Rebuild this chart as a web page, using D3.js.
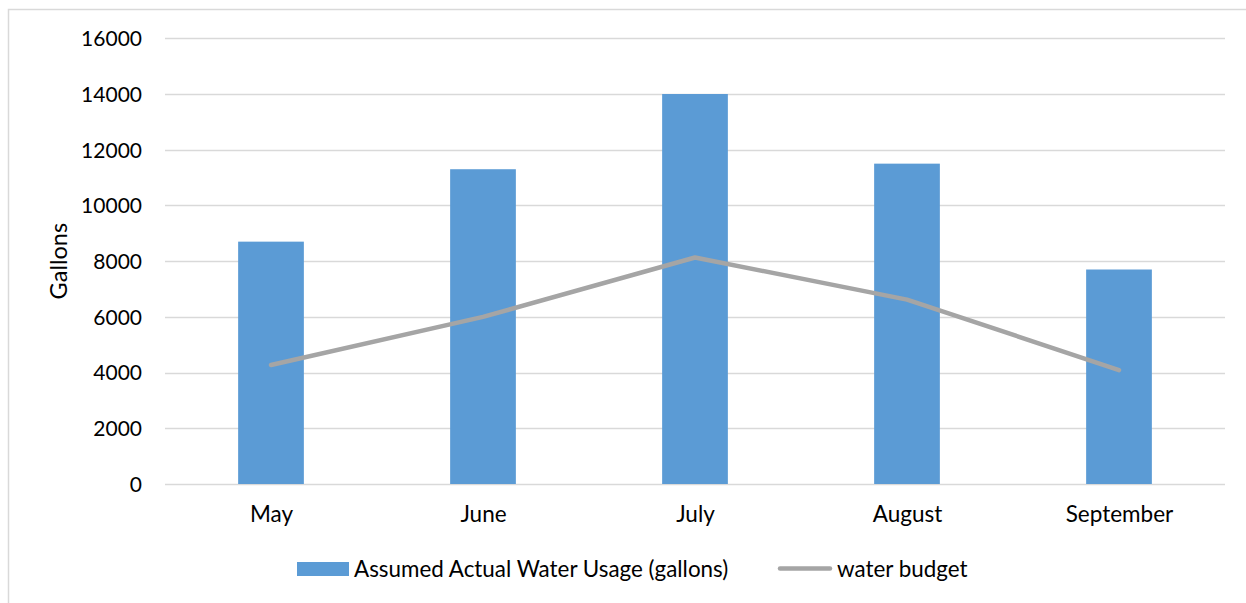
<!DOCTYPE html>
<html>
<head>
<meta charset="utf-8">
<script src="https://cdn.jsdelivr.net/npm/d3@7"></script>
<style>
  html, body { margin: 0; padding: 0; background: #ffffff; }
  svg { display: block; }
  text { font-family: Lato, "Open Sans", "Liberation Sans", sans-serif; fill: #000000; }
</style>
</head>
<body>
<svg id="chart" width="1246" height="603"></svg>
<script>
// Monthly water usage vs. budget
const months = ["May", "June", "July", "August", "September"];
const actualUsage = [8700, 11300, 14000, 11500, 7700];
const waterBudget = [4270, 6000, 8130, 6620, 4090];
const yTicks = [0, 2000, 4000, 6000, 8000, 10000, 12000, 14000, 16000];
const seriesNames = ["Assumed Actual Water Usage (gallons)", "water budget"];
const yTitle = "Gallons";

const W = 1246, H = 603;
const margin = { left: 165, right: 21, top: 38.3, bottom: 119 };
const svg = d3.select("#chart");

// Chart frame
svg.append("rect")
  .attr("x", 8.5).attr("y", 9.5)
  .attr("width", W + 10).attr("height", H + 10)
  .attr("fill", "none").attr("stroke", "#d9d9d9").attr("stroke-width", 1.5);

const x = d3.scaleBand()
  .domain(months)
  .range([margin.left, W - margin.right])
  .paddingInner(0.69).paddingOuter(0.345);

const xPoint = d3.scalePoint()
  .domain(months)
  .range([margin.left, W - margin.right])
  .padding(0.5);

const y = d3.scaleLinear()
  .domain([0, 16000])
  .range([H - margin.bottom, margin.top]);

// Gridlines
svg.append("g")
  .selectAll("line")
  .data(yTicks)
  .join("line")
  .attr("x1", margin.left).attr("x2", W - margin.right)
  .attr("y1", d => Math.round(y(d)) + 0.5).attr("y2", d => Math.round(y(d)) + 0.5)
  .attr("stroke", "#d9d9d9").attr("stroke-width", 1.3);

// Y axis labels
const yAxis = d3.axisLeft(y).tickValues(yTicks).tickSize(0).tickPadding(0).tickFormat(d3.format("d"));
const yG = svg.append("g").attr("transform", `translate(${margin.left - 23},0)`).call(yAxis);
yG.select(".domain").remove();
yG.selectAll("text").style("font-size", "21px").attr("dy", "0.35em");

// Bars
svg.append("g")
  .selectAll("rect")
  .data(months)
  .join("rect")
  .attr("x", d => x(d))
  .attr("width", x.bandwidth())
  .attr("y", (d, i) => y(actualUsage[i]))
  .attr("height", (d, i) => y(0) - y(actualUsage[i]))
  .attr("fill", "#5b9bd5");

// Budget line
const line = d3.line()
  .x((d, i) => xPoint(months[i]))
  .y(d => y(d));
svg.append("path")
  .datum(waterBudget)
  .attr("d", line)
  .attr("fill", "none")
  .attr("stroke", "#a5a5a5")
  .attr("stroke-width", 4.5)
  .attr("stroke-linecap", "round")
  .attr("stroke-linejoin", "round");

// X axis labels
const xAxis = d3.axisBottom(xPoint).tickSize(0).tickPadding(0);
const xG = svg.append("g").attr("transform", `translate(0,${y(0)})`).call(xAxis);
xG.select(".domain").remove();
xG.selectAll("text").style("font-size", "22.5px").attr("dy", null).attr("y", 38);

// Y axis title
svg.append("text")
  .attr("transform", `translate(67,${(margin.top + y(0)) / 2}) rotate(-90)`)
  .attr("text-anchor", "middle")
  .style("font-size", "23.5px")
  .text(yTitle);

// Legend
const lg = svg.append("g");
lg.append("rect")
  .attr("x", 297).attr("y", 562).attr("width", 52).attr("height", 14)
  .attr("fill", "#5b9bd5");
lg.append("text")
  .attr("x", 354).attr("y", 577)
  .style("font-size", "22.4px")
  .text(seriesNames[0]);
lg.append("line")
  .attr("x1", 780).attr("x2", 830).attr("y1", 568.5).attr("y2", 568.5)
  .attr("stroke", "#a5a5a5").attr("stroke-width", 4.5).attr("stroke-linecap", "round");
lg.append("text")
  .attr("x", 837).attr("y", 577)
  .style("font-size", "22.4px")
  .text(seriesNames[1]);
</script>
</body>
</html>
